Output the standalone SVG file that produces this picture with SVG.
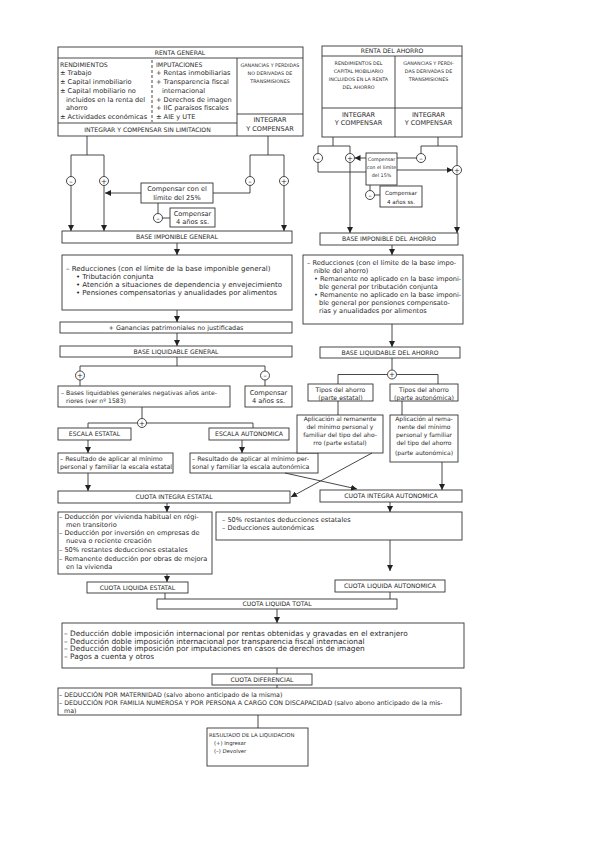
<svg xmlns="http://www.w3.org/2000/svg" width="599" height="848" viewBox="0 0 599 848">
<defs>
<marker id="ah" markerUnits="userSpaceOnUse" markerWidth="6" markerHeight="6" refX="6" refY="3" orient="auto"><path d="M0,0 L6,3 L0,6 z" fill="#222"/></marker>
</defs>
<style>
.b{fill:#fff;stroke:#333;stroke-width:0.9}
.l{fill:none;stroke:#333;stroke-width:0.9}
.d{fill:none;stroke:#333;stroke-width:0.9;stroke-dasharray:3,2}
.a{fill:none;stroke:#333;stroke-width:0.9;marker-end:url(#ah)}
.k{fill:#fff;stroke:#333;stroke-width:0.9}
text{font-family:"DejaVu Sans","Liberation Sans",sans-serif;fill:#2a2a2a}
.m{text-anchor:middle}
.c{font-size:6.1px}
.s{font-size:6.6px}
.h{font-size:6.2px}
.x{font-size:4.8px}
.i{font-size:6.5px}
.t{font-size:7px}
.r{font-size:6.6px}
.g{font-size:7.4px}
.p{font-size:6.3px}
.q{font-size:6px}
.sg{font-size:7px;text-anchor:middle}
</style>
<rect width="599" height="848" fill="#fff"/>

<g id="n-renta-general">
<rect class="b" x="58" y="47" width="245" height="89"/>
<line class="l" x1="58" y1="58" x2="303" y2="58"/>
<line class="l" x1="58" y1="123" x2="237" y2="123"/>
<line class="l" x1="237" y1="58" x2="237" y2="136"/>
<line class="l" x1="237" y1="114" x2="303" y2="114"/>
<line class="d" x1="152" y1="60" x2="152" y2="122"/>
<text class="c m" x="180" y="54.7">RENTA GENERAL</text>
<text class="h" x="60" y="67.2">RENDIMIENTOS</text>
<text class="s" x="60" y="75.4">± Trabajo</text>
<text class="s" x="60" y="84.4">± Capital inmobiliario</text>
<text class="s" x="60" y="93.4">± Capital mobiliario no</text>
<text class="s" x="66" y="102.4">incluidos en la renta del</text>
<text class="s" x="66" y="110.4">ahorro</text>
<text class="s" x="60" y="119.4">± Actividades económicas</text>
<text class="h" x="156" y="67.2">IMPUTACIONES</text>
<text class="s" x="156" y="75.4">+ Rentas inmobiliarias</text>
<text class="s" x="156" y="84.4">+ Transparencia fiscal</text>
<text class="s" x="162" y="93.4">internacional</text>
<text class="s" x="156" y="102.4">+ Derechos de imagen</text>
<text class="s" x="156" y="110.4">+ IIC paraísos fiscales</text>
<text class="s" x="156" y="119.4">± AIE y UTE</text>
<text class="x m" x="270" y="66.7">GANANCIAS Y PERDIDAS</text>
<text class="x m" x="270" y="74.7">NO DERIVADAS DE</text>
<text class="x m" x="270" y="82.7">TRANSMISIONES</text>
<text class="i m" x="270" y="122.3">INTEGRAR</text>
<text class="i m" x="270" y="130.8">Y COMPENSAR</text>
<text class="c m" x="147.5" y="132.2">INTEGRAR Y COMPENSAR SIN LIMITACION</text>
</g>

<g id="n-renta-ahorro">
<rect class="b" x="322" y="46" width="140" height="91"/>
<line class="l" x1="322" y1="56" x2="462" y2="56"/>
<line class="l" x1="395" y1="56" x2="395" y2="137"/>
<line class="l" x1="322" y1="108" x2="462" y2="108"/>
<text class="c m" x="392" y="53.2">RENTA DEL AHORRO</text>
<text class="x m" x="358.5" y="64.7">RENDIMIENTOS DEL</text>
<text class="x m" x="358.5" y="72.7">CAPITAL MOBILIARIO</text>
<text class="x m" x="358.5" y="80.7">INCLUIDOS EN LA RENTA</text>
<text class="x m" x="358.5" y="88.7">DEL AHORRO</text>
<text class="x m" x="428.5" y="64.7">GANANCIAS Y PERDI-</text>
<text class="x m" x="428.5" y="72.7">DAS DERIVADAS DE</text>
<text class="x m" x="428.5" y="80.7">TRANSMISIONES</text>
<text class="i m" x="358.5" y="117.3">INTEGRAR</text>
<text class="i m" x="358.5" y="125.3">Y COMPENSAR</text>
<text class="i m" x="428.5" y="117.3">INTEGRAR</text>
<text class="i m" x="428.5" y="125.3">Y COMPENSAR</text>
</g>

<g id="n-comp25">
<rect class="b" x="141" y="183" width="72" height="20"/>
<text class="s m" x="177" y="191.4">Compensar con el</text>
<text class="s m" x="177" y="200.4">límite del 25%</text>
</g>
<g id="n-comp4-g">
<rect class="b" x="170" y="208" width="45" height="19"/>
<text class="s m" x="192.5" y="215.9">Compensar</text>
<text class="s m" x="192.5" y="224.4">4 años ss.</text>
</g>
<g id="n-comp15">
<rect class="b" x="366" y="153" width="31" height="32"/>
<text class="x m" x="381.5" y="160.7">Compensar</text>
<text class="x m" x="381.5" y="168.7">con el límite</text>
<text class="x m" x="381.5" y="176.7">del 15%</text>
</g>
<g id="n-comp4-a">
<rect class="b" x="380" y="186" width="42" height="21"/>
<text class="m" style="font-size:5.6px" x="401" y="195">Compensar</text>
<text class="m" style="font-size:5.6px" x="401" y="203.5">4 años ss.</text>
</g>

<g id="n-base-imp-general">
<rect class="b" x="62" y="231" width="230" height="12"/>
<text class="c m" x="177" y="239.2">BASE IMPONIBLE GENERAL</text>
</g>
<g id="n-base-imp-ahorro">
<rect class="b" x="320" y="233" width="138" height="12"/>
<text class="c m" x="389" y="241.2">BASE IMPONIBLE DEL AHORRO</text>
</g>

<g id="n-red-general">
<rect class="b" x="62" y="255" width="230" height="55"/>
<text class="t" x="66" y="270.5">– Reducciones (con el límite de la base imponible general)</text>
<text class="t" x="76" y="278.5">• Tributación conjunta</text>
<text class="t" x="76" y="286.5">• Atención a situaciones de dependencia y envejecimiento</text>
<text class="t" x="76" y="294.5">• Pensiones compensatorias y anualidades por alimentos</text>
</g>
<g id="n-red-ahorro">
<rect class="b" x="303" y="255" width="160" height="69"/>
<text class="r" x="307" y="265.4">– Reducciones (con el límite de la base impo-</text>
<text class="r" x="314" y="273.4">nible del ahorro)</text>
<text class="r" x="314" y="281.4">• Remanente no aplicado en la base imponi-</text>
<text class="r" x="319" y="289.4">ble general por tributación conjunta</text>
<text class="r" x="314" y="297.4">• Remanente no aplicado en la base imponi-</text>
<text class="r" x="319" y="305.4">ble general por pensiones compensato-</text>
<text class="r" x="319" y="313.4">rias y anualidades por alimentos</text>
</g>

<g id="n-ganancias">
<rect class="b" x="60" y="322" width="232" height="11"/>
<text class="m" style="font-size:6.4px" x="176" y="329.8">+ Ganancias patrimoniales no justificadas</text>
</g>
<g id="n-base-liq-general">
<rect class="b" x="60" y="346" width="232" height="11"/>
<text class="c m" x="176" y="353.7">BASE LIQUIDABLE GENERAL</text>
</g>
<g id="n-base-liq-ahorro">
<rect class="b" x="320" y="347" width="140" height="11"/>
<text class="c m" x="390" y="354.7">BASE LIQUIDABLE DEL AHORRO</text>
</g>

<g id="n-bases-neg">
<rect class="b" x="58" y="386" width="172" height="21"/>
<text class="c" x="61" y="395.2">– Bases liquidables generales negativas años ante-</text>
<text class="c" x="66" y="403.2">riores (ver nº 1583)</text>
</g>
<g id="n-comp4-l">
<rect class="b" x="245" y="386" width="47" height="21"/>
<text class="s m" x="268.5" y="394.9">Compensar</text>
<text class="s m" x="268.5" y="402.9">4 años ss.</text>
</g>

<g id="n-escala-estatal">
<rect class="b" x="58" y="428" width="73" height="12"/>
<text class="c m" x="94.5" y="436.2">ESCALA ESTATAL</text>
</g>
<g id="n-escala-auto">
<rect class="b" x="209" y="428" width="80" height="12"/>
<text class="c m" x="249" y="436.2">ESCALA AUTONOMICA</text>
</g>
<g id="n-res-estatal">
<rect class="b" x="58" y="453" width="115" height="20"/>
<text class="p" x="60" y="460.8">– Resultado de aplicar al mínimo</text>
<text class="p" x="60" y="468.8">personal y familiar la escala estatal</text>
</g>
<g id="n-res-auto">
<rect class="b" x="190" y="453" width="128" height="20"/>
<text class="p" x="192" y="460.8">– Resultado de aplicar al mínimo per-</text>
<text class="p" x="192" y="468.8">sonal y familiar la escala autonómica</text>
</g>

<g id="n-tipos-estatal">
<rect class="b" x="308" y="384" width="65" height="17"/>
<text class="h m" x="340.5" y="392.2">Tipos del ahorro</text>
<text class="h m" x="340.5" y="399.7">(parte estatal)</text>
</g>
<g id="n-tipos-auto">
<rect class="b" x="390" y="384" width="68" height="17"/>
<text class="h m" x="424" y="392.2">Tipos del ahorro</text>
<text class="h m" x="424" y="399.7">(parte autonómica)</text>
</g>
<g id="n-apl-estatal">
<rect class="b" x="297" y="415" width="86" height="38"/>
<text class="q m" x="340" y="421.2">Aplicación al remanente</text>
<text class="q m" x="340" y="429.2">del mínimo personal y</text>
<text class="q m" x="340" y="437.2">familiar del tipo del aho-</text>
<text class="q m" x="340" y="445.2">rro (parte estatal)</text>
</g>
<g id="n-apl-auto">
<rect class="b" x="390" y="415" width="68" height="47"/>
<text class="q m" x="424" y="421.2">Aplicación al rema-</text>
<text class="q m" x="424" y="429.2">nente del mínimo</text>
<text class="q m" x="424" y="437.2">personal y familiar</text>
<text class="q m" x="424" y="445.2">del tipo del ahorro</text>
<text class="q m" x="424" y="455.2">(parte autonómica)</text>
</g>

<g id="n-cuota-int-estatal">
<rect class="b" x="58" y="491" width="232" height="12"/>
<text class="c m" x="174" y="499.2">CUOTA INTEGRA ESTATAL</text>
</g>
<g id="n-cuota-int-auto">
<rect class="b" x="320" y="490" width="142" height="12"/>
<text class="c m" x="391" y="498.2">CUOTA INTEGRA AUTONOMICA</text>
</g>
<g id="n-ded-estatal">
<rect class="b" x="58" y="512" width="154" height="62"/>
<text class="s" x="59" y="519.4">– Deducción por vivienda habitual en régi-</text>
<text class="s" x="66" y="527.4">men transitorio</text>
<text class="s" x="59" y="535.4">– Deducción por inversión en empresas de</text>
<text class="s" x="66" y="543.4">nueva o reciente creación</text>
<text class="s" x="59" y="552.4">– 50% restantes deducciones estatales</text>
<text class="s" x="59" y="561.4">– Remanente deducción por obras de mejora</text>
<text class="s" x="66" y="569.4">en la vivienda</text>
</g>
<g id="n-ded-auto">
<rect class="b" x="216" y="512" width="246" height="28"/>
<text class="s" x="222" y="522.4">– 50% restantes deducciones estatales</text>
<text class="s" x="222" y="530.4">– Deducciones autonómicas</text>
</g>
<g id="n-cuota-liq-estatal">
<rect class="b" x="87" y="582" width="101" height="11"/>
<text class="c m" x="137.5" y="589.7">CUOTA LIQUIDA ESTATAL</text>
</g>
<g id="n-cuota-liq-auto">
<rect class="b" x="335" y="580" width="110" height="12"/>
<text class="c m" x="390" y="588.2">CUOTA LIQUIDA AUTONOMICA</text>
</g>
<g id="n-cuota-liq-total">
<rect class="b" x="157" y="599" width="240" height="10"/>
<text class="c m" x="277" y="606.2">CUOTA LIQUIDA TOTAL</text>
</g>
<g id="n-ded-total">
<rect class="b" x="62" y="623" width="402" height="45"/>
<text class="g" x="64" y="635.6">– Deducción doble imposición internacional por rentas obtenidas y gravadas en el extranjero</text>
<text class="g" x="64" y="643.6">– Deducción doble imposición internacional por transparencia fiscal internacional</text>
<text class="g" x="64" y="651.1">– Deducción doble imposición por imputaciones en casos de derechos de imagen</text>
<text class="g" x="64" y="658.6">– Pagos a cuenta y otros</text>
</g>
<g id="n-cuota-dif">
<rect class="b" x="212" y="674" width="100" height="11"/>
<text class="c m" x="262" y="681.7">CUOTA DIFERENCIAL</text>
</g>
<g id="n-maternidad">
<rect class="b" x="58" y="688" width="403" height="27"/>
<text class="p" x="59" y="697.3">– DEDUCCIÓN POR MATERNIDAD (salvo abono anticipado de la misma)</text>
<text class="p" x="59" y="705.3">– DEDUCCIÓN POR FAMILIA NUMEROSA Y POR PERSONA A CARGO CON DISCAPACIDAD (salvo abono anticipado de la mis-</text>
<text class="p" x="64" y="713.3">ma)</text>
</g>
<g id="n-resultado">
<rect class="b" x="207" y="728" width="101" height="38"/>
<text style="font-size:5.3px" x="209" y="737">RESULTADO DE LA LIQUIDACION</text>
<text style="font-size:5.3px" x="214" y="745">(+) Ingresar</text>
<text style="font-size:5.3px" x="214" y="753">(–) Devolver</text>
</g>

<g id="connectors">
<polyline class="l" points="87,136 87,155"/>
<polyline class="l" points="71,176.5 71,155 104,155 104,176.5"/>
<polyline class="l" points="268,136 268,155"/>
<polyline class="l" points="250,176.5 250,155 284,155 284,176.5"/>
<line class="a" x1="71" y1="185.5" x2="71" y2="231"/>
<line class="a" x1="104" y1="185.5" x2="104" y2="231"/>
<line class="a" x1="284" y1="185.5" x2="284" y2="231"/>
<polyline class="l" points="250,185.5 250,193 213,193"/>
<line class="a" x1="141" y1="193" x2="105" y2="193"/>
<line class="l" x1="158" y1="203" x2="158" y2="213.5"/>
<line class="l" x1="162.5" y1="218" x2="170" y2="218"/>
<line class="a" x1="177" y1="243" x2="177" y2="255"/>
<line class="a" x1="177" y1="310" x2="177" y2="322"/>
<line class="a" x1="177" y1="333" x2="177" y2="346"/>
<line class="l" x1="177" y1="357" x2="177" y2="366"/>
<polyline class="l" points="80,371 80,366 265,366 265,371"/>
<line class="l" x1="80" y1="380" x2="80" y2="386"/>
<line class="l" x1="265" y1="380" x2="265" y2="386"/>
<line class="l" x1="142" y1="407" x2="142" y2="418.5"/>
<polyline class="l" points="88,428 88,423 137.5,423"/>
<polyline class="l" points="146.5,423 253,423 253,428"/>
<line class="a" x1="88" y1="440" x2="88" y2="453"/>
<line class="a" x1="242" y1="440" x2="242" y2="453"/>
<line class="a" x1="88" y1="473" x2="88" y2="491"/>
<line class="a" x1="372" y1="453" x2="291" y2="497"/>
<line class="a" x1="285" y1="473" x2="357" y2="489"/>
<line class="a" x1="167" y1="503" x2="167" y2="512"/>
<line class="a" x1="167" y1="574" x2="167" y2="582"/>
<line class="l" x1="165" y1="593" x2="165" y2="599"/>
<line class="a" x1="390" y1="502" x2="390" y2="512"/>
<line class="a" x1="390" y1="540" x2="390" y2="571"/>
<line class="l" x1="390" y1="592" x2="390" y2="599"/>
<line class="a" x1="277" y1="609" x2="277" y2="623"/>
<line class="l" x1="277" y1="668" x2="277" y2="674"/>
<line class="l" x1="277" y1="685" x2="277" y2="688"/>
<line class="l" x1="258" y1="715" x2="258" y2="728"/>
<polyline class="l" points="333,137 333,146"/>
<polyline class="l" points="318,153.5 318,146 350,146 350,153.5"/>
<polyline class="l" points="438,137 438,146"/>
<polyline class="l" points="421,153.5 421,146 457,146 457,165.5"/>
<line class="a" x1="366" y1="158" x2="354.5" y2="158"/>
<line class="l" x1="416.5" y1="158" x2="397" y2="158"/>
<line class="a" x1="397" y1="170" x2="452.5" y2="170"/>
<polyline class="l" points="318,162.5 318,172 366,172"/>
<line class="l" x1="370" y1="185" x2="370" y2="190.5"/>
<line class="l" x1="374.5" y1="195" x2="380" y2="195"/>
<line class="a" x1="350" y1="162.5" x2="350" y2="233"/>
<line class="a" x1="457" y1="174.5" x2="457" y2="233"/>
<line class="a" x1="392" y1="245" x2="392" y2="255"/>
<line class="a" x1="392" y1="324" x2="392" y2="347"/>
<line class="l" x1="392" y1="358" x2="392" y2="370"/>
<polyline class="l" points="338,384 338,374.5 387.5,374.5"/>
<polyline class="l" points="396.5,374.5 438,374.5 438,384"/>
<line class="l" x1="338" y1="401" x2="338" y2="415"/>
<line class="l" x1="402" y1="401" x2="402" y2="415"/>
<line class="a" x1="442" y1="462" x2="442" y2="490"/>
</g>

<g id="signs">
<circle class="k" cx="71" cy="181" r="4.5"/><text class="sg" x="71" y="183.5">–</text>
<circle class="k" cx="104" cy="181" r="4.5"/><text class="sg" x="104" y="183.5">+</text>
<circle class="k" cx="250" cy="181" r="4.5"/><text class="sg" x="250" y="183.5">–</text>
<circle class="k" cx="284" cy="181" r="4.5"/><text class="sg" x="284" y="183.5">+</text>
<circle class="k" cx="158" cy="218" r="4.5"/><text class="sg" x="158" y="220.5">–</text>
<circle class="k" cx="80" cy="375.5" r="4.5"/><text class="sg" x="80" y="378">+</text>
<circle class="k" cx="265" cy="375.5" r="4.5"/><text class="sg" x="265" y="378">–</text>
<circle class="k" cx="142" cy="423" r="4.5"/><text class="sg" x="142" y="425.5">+</text>
<circle class="k" cx="318" cy="158" r="4.5"/><text class="sg" x="318" y="160.5">–</text>
<circle class="k" cx="350" cy="158" r="4.5"/><text class="sg" x="350" y="160.5">+</text>
<circle class="k" cx="421" cy="158" r="4.5"/><text class="sg" x="421" y="160.5">–</text>
<circle class="k" cx="457" cy="170" r="4.5"/><text class="sg" x="457" y="172.5">+</text>
<circle class="k" cx="370" cy="195" r="4.5"/><text class="sg" x="370" y="197.5">–</text>
<circle class="k" cx="392" cy="374.5" r="4.5"/><text class="sg" x="392" y="377">+</text>
</g>
</svg>
